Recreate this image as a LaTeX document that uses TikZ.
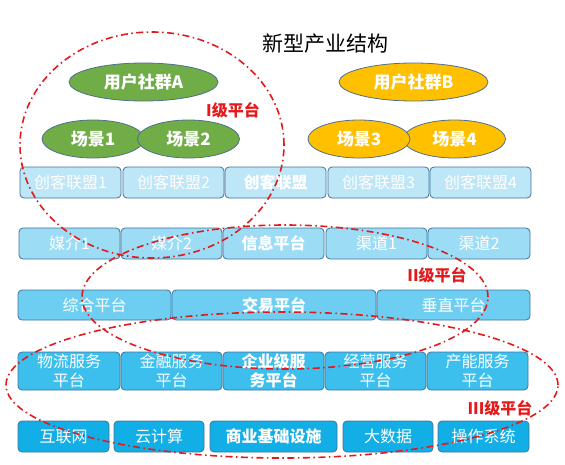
\documentclass[tikz,border=0pt]{standalone}
\usepackage{fontspec}
\setmainfont{Noto Sans CJK SC}
\usetikzlibrary{shapes.geometric}
\definecolor{rowa}{HTML}{BDE6F7}
\definecolor{rowb}{HTML}{9CDCF5}
\definecolor{rowc}{HTML}{6ECEF1}
\definecolor{rowd}{HTML}{3DBFEE}
\definecolor{rowe}{HTML}{12AEE6}
\definecolor{bordc}{HTML}{41719C}
\definecolor{ellc}{HTML}{4F6F8F}
\definecolor{grn}{HTML}{70AD47}
\definecolor{org}{HTML}{FFC000}
\definecolor{lvred}{HTML}{E31A1C}
\begin{document}
\begin{tikzpicture}[x=1pt,y=-1pt,
  box/.style={draw=bordc, line width=0.8pt, rounded corners=4pt, inner sep=0pt,
    text=white, font=\fontsize{16}{19}\selectfont, align=center},
  bbox/.style={box, font=\fontsize{16}{19}\selectfont\bfseries},
  ell/.style={ellipse, draw=ellc, line width=0.8pt, inner sep=0pt, text=white,
    minimum width=102pt, minimum height=38pt, font=\fontsize{17}{20}\selectfont\bfseries},
  lvl/.style={text=lvred, inner sep=0pt, font=\fontsize{16}{19}\selectfont\bfseries},
  ring/.style={draw=lvred, line width=1.6pt, dash pattern=on 7pt off 3.5pt on 1.5pt off 3.5pt}]
\useasboundingbox (0,0) rectangle (565,464);

\node[inner sep=0pt, font=\fontsize{21}{24}\selectfont] (title) at (325,44) {新型产业结构};

% ellipses
\node[ell, fill=grn, minimum width=149pt] (ua) at (143.5,82) {用户社群A};
\node[ell, fill=grn] (s1) at (93,139) {场景1};
\node[ell, fill=grn] (s2) at (188.5,139) {场景2};
\node[ell, fill=org, minimum width=149pt] (ub) at (413.5,82) {用户社群B};
\node[ell, fill=org] (s4) at (454.5,139) {场景4};
\node[ell, fill=org] (s3) at (359,139) {场景3};

% row 1
\begin{scope}[every node/.append style={minimum height=31pt, fill=rowa}]
\node[box, minimum width=101pt] (a1) at (70.5,182.5) {创客联盟1};
\node[box, minimum width=101pt] (a2) at (173.5,182.5) {创客联盟2};
\node[bbox, minimum width=101pt] (a3) at (275.5,182.5) {创客联盟};
\node[box, minimum width=101pt] (a4) at (378.5,182.5) {创客联盟3};
\node[box, minimum width=101pt] (a5) at (480.5,182.5) {创客联盟4};
\end{scope}
% row 2
\begin{scope}[every node/.append style={minimum height=31pt, fill=rowb}]
\node[box, minimum width=101pt] (b1) at (69.5,243.5) {媒介1};
\node[box, minimum width=101pt] (b2) at (171.5,243.5) {媒介2};
\node[bbox, minimum width=101pt] (b3) at (273.5,243.5) {信息平台};
\node[box, minimum width=101pt] (b4) at (376.5,243.5) {渠道1};
\node[box, minimum width=102pt] (b5) at (479,243.5) {渠道2};
\end{scope}
% row 3
\begin{scope}[every node/.append style={minimum height=30pt, fill=rowc}]
\node[box, minimum width=153pt] (c1) at (94.5,305) {综合平台};
\node[bbox, minimum width=204pt] (c2) at (274,305) {交易平台};
\node[box, minimum width=153pt] (c3) at (453.5,305) {垂直平台};
\end{scope}
% row 4
\begin{scope}[every node/.append style={minimum height=38pt, fill=rowd}]
\node[box, minimum width=102pt] (d1) at (69,371) {物流服务\\平台};
\node[box, minimum width=101pt] (d2) at (171.5,371) {金融服务\\平台};
\node[bbox, minimum width=101pt] (d3) at (273.5,371) {企业级服\\务平台};
\node[box, minimum width=101pt] (d4) at (375.5,371) {经营服务\\平台};
\node[box, minimum width=101pt] (d5) at (477.5,371) {产能服务\\平台};
\end{scope}
% row 5
\begin{scope}[every node/.append style={minimum height=31pt, fill=rowe}]
\node[box, minimum width=91pt] (e1) at (63.5,436.5) {互联网};
\node[box, minimum width=90pt] (e2) at (159,436.5) {云计算};
\node[bbox, minimum width=127pt] (e3) at (273.5,436.5) {商业基础设施};
\node[box, minimum width=90pt] (e4) at (388,436.5) {大数据};
\node[box, minimum width=91pt] (e5) at (483.5,436.5) {操作系统};
\end{scope}

% rings
\draw[ring] (152,145) ellipse [x radius=132pt, y radius=113pt];
\draw[ring] (285,297) ellipse [x radius=203pt, y radius=72pt];
\draw[ring] (282,385) ellipse [x radius=276pt, y radius=73pt];

\node[lvl] (l1) at (233,110) {I级平台};
\node[lvl] (l2) at (437,275) {II级平台};
\node[lvl] (l3) at (500,408) {III级平台};
\end{tikzpicture}
\end{document}
